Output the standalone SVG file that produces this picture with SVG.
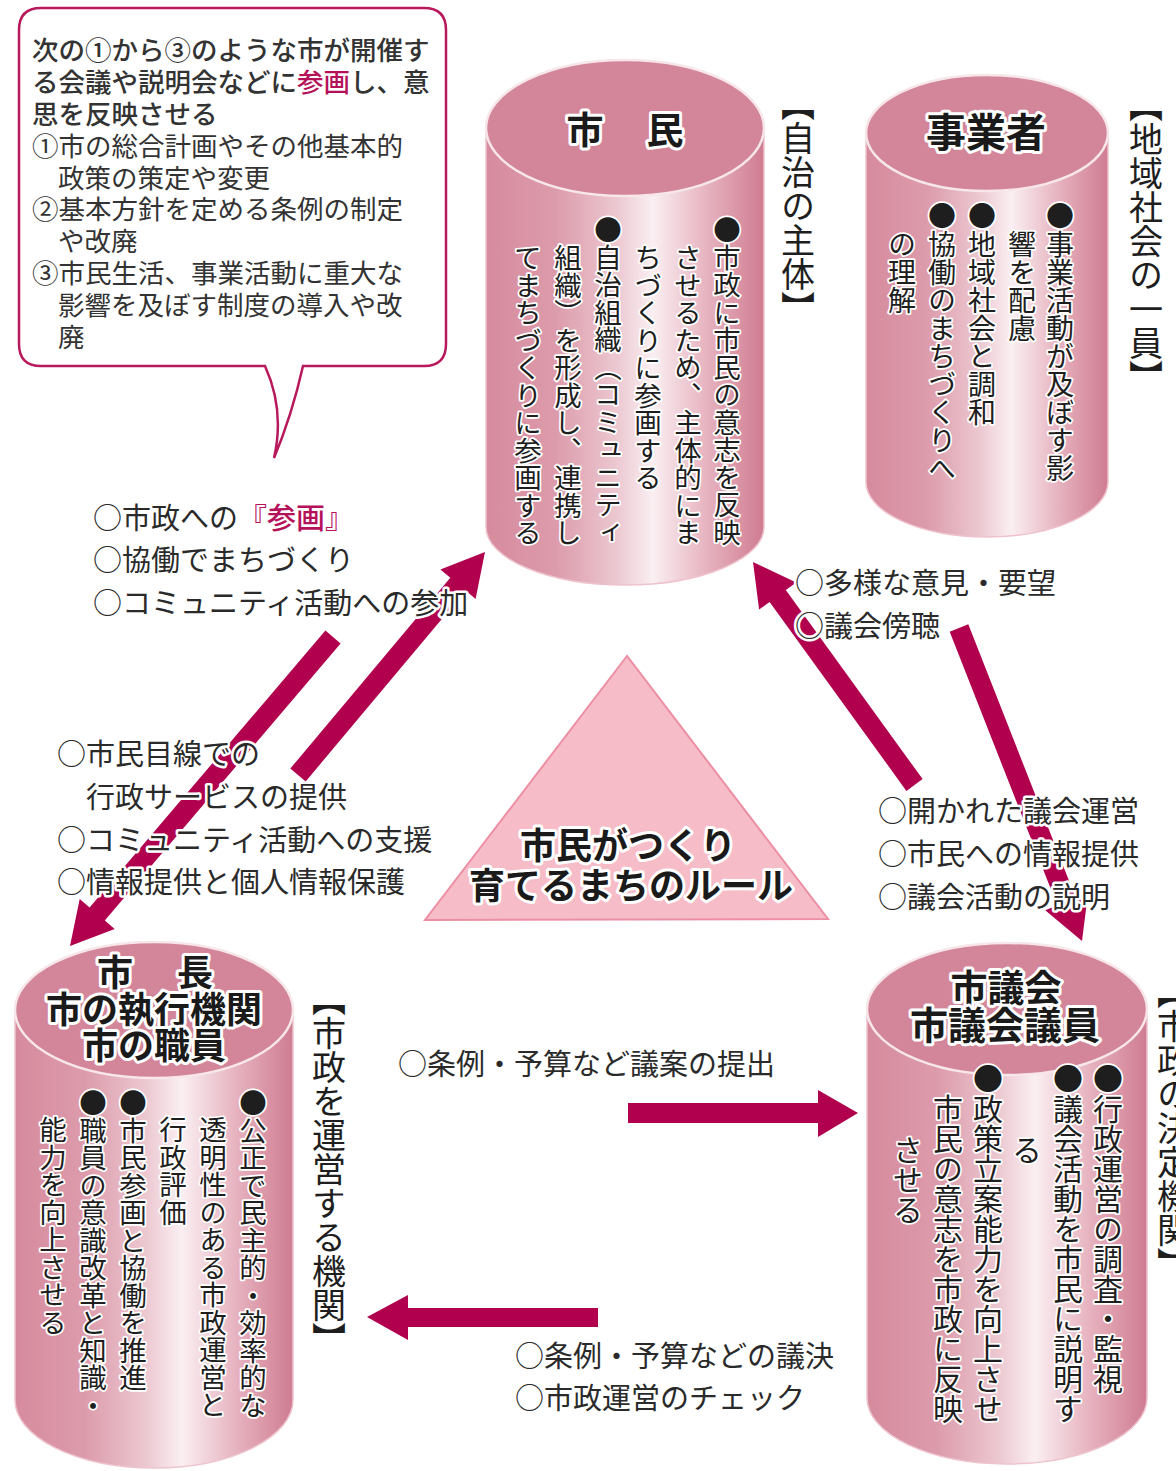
<svg xmlns="http://www.w3.org/2000/svg" width="1176" height="1471" viewBox="0 0 1176 1471">
<defs>
<linearGradient id="side" x1="0" x2="1" y1="0" y2="0">
<stop offset="0" stop-color="#d68b9d"/>
<stop offset="0.25" stop-color="#dc9bab"/>
<stop offset="0.47" stop-color="#ecc8d1"/>
<stop offset="0.6" stop-color="#faeff2"/>
<stop offset="0.8" stop-color="#e6b1be"/>
<stop offset="1" stop-color="#cf7c91"/>
</linearGradient>
<style>
.cjk{font-family:"Noto Sans CJK JP","Noto Sans",sans-serif}
.v{writing-mode:vertical-rl}
.side{fill:url(#side);stroke:#eec3cd;stroke-width:1.5}
.top{fill:#d3869a;stroke:#f7e6ea;stroke-width:2.5}
.body{fill:#1e1e1e;stroke:#fff;stroke-width:3.5;paint-order:stroke;stroke-linejoin:round}
.ttl{font-weight:bold;fill:#1a1a1a;stroke:#fff;stroke-width:6;paint-order:stroke;stroke-linejoin:round;text-anchor:middle}
.role{font-size:34px;fill:#1e1e1e}
.lbl{font-size:29px;fill:#2a2a2a;stroke:#fff;stroke-width:5;paint-order:stroke;stroke-linejoin:round}
.bub{font-size:26.5px;fill:#333}
.red{fill:#b5115a}
.arrow{fill:#b0004e}
</style>
</defs>
<rect width="1176" height="1471" fill="#fff"/>

<g id="bubble" class="cjk">
<path d="M41,8 H424 Q446,8 446,30 V344 Q446,366 424,366 H303 Q292,415 274,458 Q285,410 265,366 H41 Q19,366 19,344 V30 Q19,8 41,8 Z" fill="#fff" stroke="#b8185c" stroke-width="2.5"/>
<text class="bub" font-weight="500" x="32" y="60">次の①から③のような市が開催す</text>
<text class="bub" font-weight="500" x="32" y="92">る会議や説明会などに<tspan class="red">参画</tspan>し、意</text>
<text class="bub" font-weight="500" x="32" y="124">思を反映させる</text>
<text class="bub" x="32" y="156">①市の総合計画やその他基本的</text>
<text class="bub" x="58" y="188">政策の策定や変更</text>
<text class="bub" x="32" y="219">②基本方針を定める条例の制定</text>
<text class="bub" x="58" y="251">や改廃</text>
<text class="bub" x="32" y="283">③市民生活、事業活動に重大な</text>
<text class="bub" x="58" y="315">影響を及ぼす制度の導入や改</text>
<text class="bub" x="58" y="347">廃</text>
</g>

<g id="shimin" class="cjk">
<path class="side" d="M486,128 V527 A139,58 0 0 0 764,527 V128 Z"/>
<ellipse class="top" cx="625" cy="128" rx="139" ry="68"/>
<text class="ttl" font-size="37"><tspan x="585" y="144">市</tspan><tspan x="665" y="144">民</tspan></text>
<g class="body v" font-size="27.5">
<text x="727" y="216">●市政に市民の意志を反映</text>
<text x="688" y="244">させるため、主体的にま</text>
<text x="648" y="244">ちづくりに参画する</text>
<text x="608" y="216">●自治組織（コミュニティ</text>
<text x="568" y="244">組織）を形成し、連携し</text>
<text x="528" y="244">てまちづくりに参画する</text>
</g>
<text class="role v" x="798"><tspan y="87">【</tspan><tspan y="121">自治の主体</tspan><tspan y="291">】</tspan></text>
</g>

<g id="jigyosha" class="cjk">
<path class="side" d="M866,133 V482 A121,55 0 0 0 1108,482 V133 Z"/>
<ellipse class="top" cx="987" cy="133" rx="121" ry="58"/>
<text class="ttl" font-size="40" x="986" y="147">事業者</text>
<g class="body v" font-size="28">
<text x="1060" y="202">●事業活動が及ぼす影</text>
<text x="1022" y="230">響を配慮</text>
<text x="982" y="202">●地域社会と調和</text>
<text x="942" y="202">●協働のまちづくりへ</text>
<text x="902" y="230">の理解</text>
</g>
<text class="role v" x="1146"><tspan y="88">【</tspan><tspan y="122">地域社会の一員</tspan><tspan y="360">】</tspan></text>
</g>

<g id="shicho" class="cjk">
<path class="side" d="M15,1010 V1400 A139,68 0 0 0 293,1400 V1010 Z"/>
<ellipse class="top" cx="154" cy="1010" rx="139" ry="68"/>
<text class="ttl" font-size="36"><tspan x="115" y="986">市</tspan><tspan x="195" y="986">長</tspan></text>
<text class="ttl" font-size="36" x="154" y="1023">市の執行機関</text>
<text class="ttl" font-size="36" x="154" y="1059">市の職員</text>
<g class="body v" font-size="27.5">
<text x="253" y="1089">●公正で民主的・効率的な</text>
<text x="213" y="1116">透明性のある市政運営と</text>
<text x="173" y="1116">行政評価</text>
<text x="133" y="1089">●市民参画と協働を推進</text>
<text x="93" y="1089">●職員の意識改革と知識・</text>
<text x="53" y="1116">能力を向上させる</text>
</g>
<text class="role v" x="329"><tspan y="982">【</tspan><tspan y="1016">市政を運営する機関</tspan><tspan y="1322">】</tspan></text>
</g>

<g id="shigikai" class="cjk">
<path class="side" d="M867,1009 V1398 A140,66 0 0 0 1147,1398 V1009 Z"/>
<ellipse class="top" cx="1007" cy="1009" rx="140" ry="66"/>
<text class="ttl" font-size="37" x="1006" y="1002">市議会</text>
<text class="ttl" font-size="38" x="1005" y="1039">市議会議員</text>
<g class="body v" font-size="30">
<text x="1108" y="1064">●行政運営の調査・監視</text>
<text x="1068" y="1064">●議会活動を市民に説明す</text>
<text x="1027" y="1135">る</text>
<text x="988" y="1064">●政策立案能力を向上させ</text>
<text x="948" y="1094">市民の意志を市政に反映</text>
<text x="908" y="1135">させる</text>
</g>
<text class="role v" x="1174"><tspan y="975">【</tspan><tspan y="1009">市政の決定機関</tspan><tspan y="1247">】</tspan></text>
</g>

<g id="rule" class="cjk">
<polygon points="627,656 425,920 828,919" fill="#f6bdc9" stroke="#ec8fa4" stroke-width="2"/>
<text class="ttl" font-size="36" x="628" y="859">市民がつくり</text>
<text class="ttl" font-size="36" x="631" y="899">育てるまちのルール</text>
</g>

<g id="connectors">
<polygon class="arrow" points="340.6,643.5 104.8,920.5 114.7,928.9 70,946 79.7,899.1 89.6,907.5 325.4,630.5"/>
<polygon class="arrow" points="305.7,781.4 465.7,590.6 475.6,599.0 485,552 440.4,569.4 450.3,577.8 290.3,768.6"/>
<polygon class="arrow" points="922.6,779.1 785.8,590.1 796.3,582.5 753,562 759.1,609.5 769.6,601.9 906.4,790.9"/>
<polygon class="arrow" points="968.3,624.3 1075.9,898.2 1088.0,893.5 1082,941 1045.2,910.3 1057.3,905.6 949.7,631.7"/>
<polygon class="arrow" points="628,1103 818,1103 818,1090 858,1113 818,1137 818,1123 628,1123"/>
<polygon class="arrow" points="598,1308 408,1308 408,1295 367,1317 408,1340 408,1327 598,1327"/>
</g>

<g id="labels" class="cjk">
<text class="lbl" x="93" y="529">○市政への<tspan class="red" font-weight="500">『参画』</tspan></text>
<text class="lbl" x="93" y="571">○協働でまちづくり</text>
<text class="lbl" x="93" y="614">○コミュニティ活動への参加</text>
<text class="lbl" x="57" y="765">○市民目線での</text>
<text class="lbl" x="86" y="808">行政サービスの提供</text>
<text class="lbl" x="57" y="851">○コミュニティ活動への支援</text>
<text class="lbl" x="57" y="893">○情報提供と個人情報保護</text>
<text class="lbl" x="795" y="594">○多様な意見・要望</text>
<text class="lbl" x="795" y="637">○議会傍聴</text>
<text class="lbl" x="878" y="822">○開かれた議会運営</text>
<text class="lbl" x="878" y="865">○市民への情報提供</text>
<text class="lbl" x="878" y="908">○議会活動の説明</text>
<text class="lbl" x="398" y="1075">○条例・予算など議案の提出</text>
<text class="lbl" x="515" y="1367">○条例・予算などの議決</text>
<text class="lbl" x="515" y="1409">○市政運営のチェック</text>
</g>
</svg>
